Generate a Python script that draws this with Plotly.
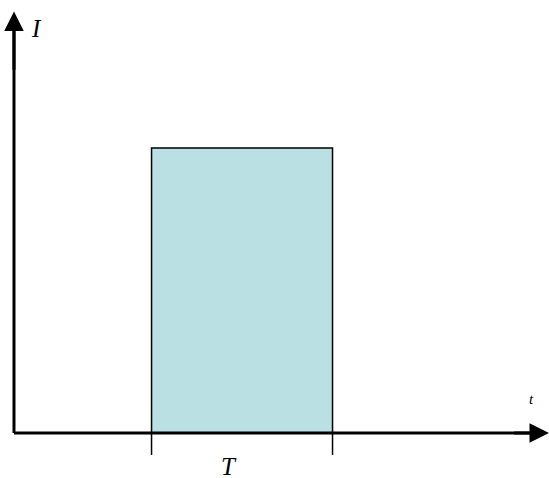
import plotly.graph_objects as go

# Data (arbitrary units): rectangular current pulse of duration T
pulse_start = [0.76]
pulse_duration = [1.0]
pulse_current = [1.0]

axis_labels = {"I": "I", "t": "t", "T": "T"}

x_range = [-0.0773, 2.956]
y_range = [-0.158, 1.519]

fill_color = "#BAE0E3"

fig = go.Figure()

fig.add_trace(go.Bar(
    x=[pulse_start[0] + pulse_duration[0] / 2],
    y=pulse_current,
    width=pulse_duration,
    base=[0],
    marker=dict(color=fill_color, line=dict(color="black", width=1.5)),
    hoverinfo="skip",
))

t0 = pulse_start[0]
t1 = pulse_start[0] + pulse_duration[0]

shapes = [
    # horizontal axis
    dict(type="line", x0=0, x1=x_range[1] - 0.05, y0=0, y1=0,
         line=dict(color="black", width=3), layer="above"),
    # vertical axis
    dict(type="line", x0=0, x1=0, y0=0, y1=y_range[1] - 0.06,
         line=dict(color="black", width=3), layer="above"),
    # tick marks at pulse edges
    dict(type="line", x0=t0, x1=t0, y0=0, y1=-0.077,
         line=dict(color="black", width=1.5)),
    dict(type="line", x0=t1, x1=t1, y0=0, y1=-0.077,
         line=dict(color="black", width=1.5)),
]

annotations = [
    dict(x=x_range[1], y=0, ax=x_range[1] - 0.2, ay=0, xref="x", yref="y",
         axref="x", ayref="y", text="", showarrow=True, arrowhead=2,
         arrowsize=1.3, arrowwidth=3, arrowcolor="black"),
    dict(x=0, y=y_range[1] - 0.04, ax=0, ay=y_range[1] - 0.25, xref="x", yref="y",
         axref="x", ayref="y", text="", showarrow=True, arrowhead=2,
         arrowsize=1.3, arrowwidth=3, arrowcolor="black"),
    dict(x=0.127, y=1.42, text=axis_labels["I"], showarrow=False,
         font=dict(family="Liberation Serif", size=25, color="black")),
    dict(x=1.19, y=-0.117, text=axis_labels["T"], showarrow=False,
         font=dict(family="Liberation Serif", size=25, color="black")),
    dict(x=2.862, y=0.12, text=axis_labels["t"], showarrow=False,
         font=dict(family="Liberation Serif", size=15, color="black")),
]

for a in annotations:
    if a["text"]:
        a["text"] = "<i>" + a["text"] + "</i>"

fig.update_layout(
    width=549, height=478,
    margin=dict(l=0, r=0, t=0, b=0),
    paper_bgcolor="white", plot_bgcolor="white",
    showlegend=False,
    xaxis=dict(range=x_range, visible=False, fixedrange=True),
    yaxis=dict(range=y_range, visible=False, fixedrange=True),
    shapes=shapes,
    annotations=annotations,
)

fig.write_html(
    "out.html",
    config={"displayModeBar": False},
    post_script="document.body.style.margin='0';document.body.style.overflow='hidden';",
)
